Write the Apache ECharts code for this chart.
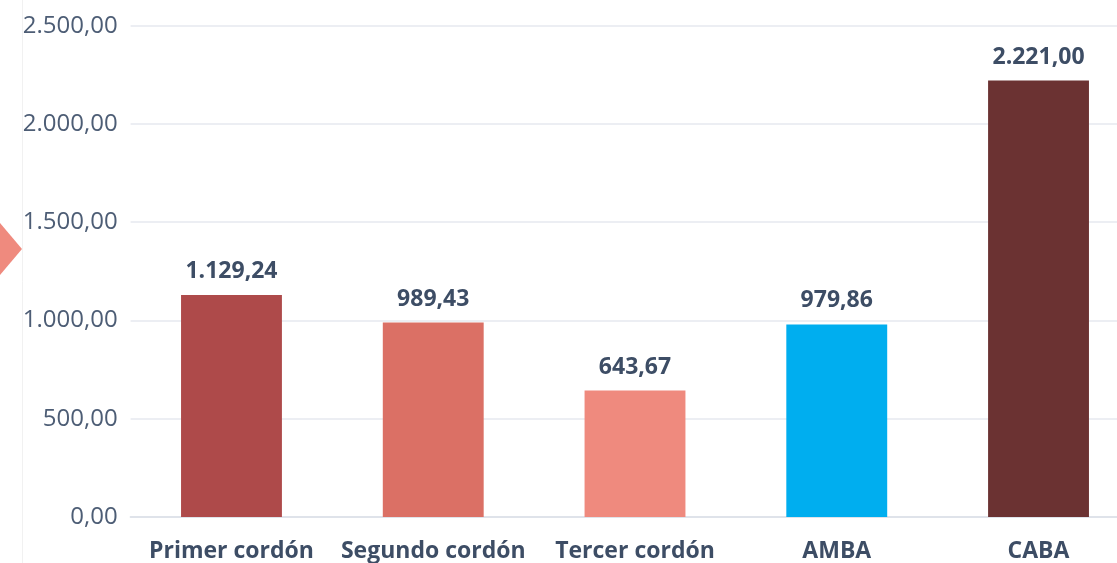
<!DOCTYPE html>
<html>
<head>
<meta charset="utf-8">
<script src="https://cdn.jsdelivr.net/npm/echarts@6/dist/echarts.min.js"></script>
<style>
html,body{margin:0;padding:0;background:#fff;overflow:hidden;width:1117px;height:563px;}
#c{width:1140px;height:563px;}
</style>
</head>
<body>
<div id="c"></div>
<script>
const categories = ['Primer cordón', 'Segundo cordón', 'Tercer cordón', 'AMBA', 'CABA'];
const values = [1129.24, 989.43, 643.67, 979.86, 2221.00];
const barColors = ['#ae4a4a', '#db7065', '#ef8a7e', '#00aeef', '#6b3232'];
const yTicks = { min: 0, max: 2500, interval: 500 };

function fmt(v) {
  const s = v.toFixed(2).split('.');
  const intPart = s[0].replace(/\B(?=(\d{3})+(?!\d))/g, '.');
  return intPart + ',' + s[1];
}

const chart = echarts.init(document.getElementById('c'));
chart.setOption({
  animation: false,
  backgroundColor: '#ffffff',
  grid: { left: 130.6, right: 0.6, top: 25.7, bottom: 40.8, containLabel: false },
  xAxis: {
    type: 'category',
    data: categories,
    axisLine: { show: true, lineStyle: { color: '#dfe3ea', width: 2 } },
    axisTick: { show: false },
    axisLabel: {
      color: '#3d4d65', fontFamily: 'Open Sans', fontWeight: 'bold', fontSize: 23,
      margin: 23, interval: 0
    }
  },
  yAxis: {
    type: 'value',
    min: yTicks.min, max: yTicks.max, interval: yTicks.interval,
    axisLine: { show: false },
    axisTick: { show: false },
    splitLine: { lineStyle: { color: '#e6e9ef', width: 1.5 } },
    axisLabel: {
      color: '#4d5d75', fontFamily: 'Open Sans', fontSize: 24, margin: 13,
      formatter: v => fmt(v)
    }
  },
  series: [{
    type: 'bar',
    data: values.map((v, i) => ({ value: v, itemStyle: { color: barColors[i] } })),
    barWidth: '50%',
    label: {
      show: true, position: 'top', distance: 12,
      color: '#3d4d65', fontFamily: 'Open Sans', fontWeight: 'bold', fontSize: 23,
      formatter: p => fmt(p.value)
    }
  }],
  graphic: [
    { type: 'line', shape: { x1: 22.5, y1: 0, x2: 22.5, y2: 563 }, style: { stroke: '#f1f1f1', lineWidth: 1 }, z: -1 },
    { type: 'polygon', shape: { points: [[0, 223], [22, 249], [0, 275]] }, style: { fill: '#ef8a7e' } }
  ]
});
</script>
</body>
</html>
